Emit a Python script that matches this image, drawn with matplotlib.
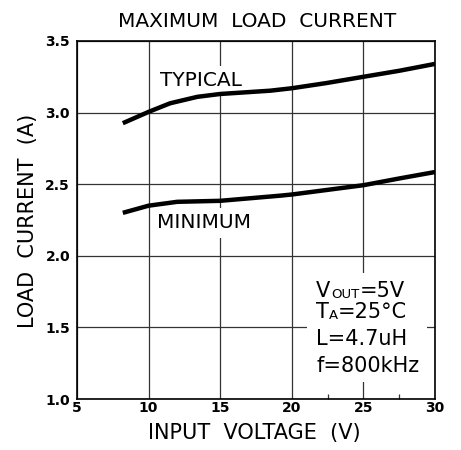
import matplotlib
matplotlib.use("Agg")
import matplotlib.pyplot as plt
from matplotlib.patches import Rectangle

# values
typical_vin  = [8.2, 10.0, 11.5, 13.4, 15.0, 18.5, 20.0, 22.4, 25.0, 27.5, 30.0]
typical_iout = [2.926, 3.005, 3.065, 3.11, 3.13, 3.153, 3.17, 3.206, 3.25, 3.292, 3.34]
minimum_vin  = [8.2, 10.0, 12.0, 15.0, 19.2, 20.0, 25.0, 27.5, 30.0]
minimum_iout = [2.30, 2.35, 2.377, 2.384, 2.42, 2.428, 2.493, 2.54, 2.585]

x_ticks = [5, 10, 15, 20, 25, 30]
y_ticks = [1.0, 1.5, 2.0, 2.5, 3.0, 3.5]
x_minor = [22.5, 27.5]

plt.rcParams.update({
    "font.family": ["DejaVu Sans"],
})


def plot_load_current():
    fig = plt.figure(figsize=(4.61, 4.5), dpi=100)
    ax = fig.add_axes([0.167, 0.1133, 0.7766, 0.7956])

    ax.plot(typical_vin, typical_iout, color="black", lw=3.2, zorder=5,
            solid_capstyle="butt")
    ax.plot(minimum_vin, minimum_iout, color="black", lw=3.2, zorder=5,
            solid_capstyle="butt")

    ax.set_xlim(5, 30)
    ax.set_ylim(1.0, 3.5)
    ax.set_xticks(x_ticks)
    ax.set_yticks(y_ticks)
    ax.set_xticklabels([str(v) for v in x_ticks], fontweight="bold")
    ax.set_yticklabels(["%.1f" % v for v in y_ticks], fontweight="bold")
    ax.set_xticks(x_minor, minor=True)

    ax.grid(True, which="major", color="#333333", lw=0.9)
    ax.set_axisbelow(True)
    ax.tick_params(which="major", length=0, labelsize=10)
    ax.tick_params(axis="x", which="major", pad=1.5)
    ax.tick_params(axis="y", which="major", pad=5)
    ax.tick_params(which="minor", direction="in", length=3.6, width=0.9,
                   color="#333333")
    for s in ax.spines.values():
        s.set_linewidth(1.2)
        s.set_color("black")

    box = dict(facecolor="white", edgecolor="none", pad=4)
    ax.text(10.8, 3.183, "TYPICAL", fontsize=14.5, va="baseline", ha="left",
            bbox=box, zorder=3)
    ax.text(10.56, 2.192, "MINIMUM", fontsize=14.5, va="baseline", ha="left",
            bbox=box, zorder=3)

    # conditions block
    ax.add_patch(Rectangle((0.642, 0.0475), 0.335, 0.304, transform=ax.transAxes,
                           facecolor="white", edgecolor="none", zorder=3))
    big = 15
    small = 9.5
    x0 = 0.668
    t = ax.text(x0, 0.2858, "V", fontsize=big, transform=ax.transAxes,
                va="baseline", zorder=4)
    t = ax.annotate("OUT", xy=(1, 0), xycoords=t, xytext=(0.5, 0),
                    textcoords="offset points", fontsize=small,
                    va="bottom", zorder=4)
    ax.annotate("=5V", xy=(1, 0), xycoords=t, fontsize=big, va="bottom",
                zorder=4)
    t = ax.text(x0, 0.226, "T", fontsize=big, transform=ax.transAxes,
                va="baseline", zorder=4)
    t = ax.annotate("A", xy=(1, 0), xycoords=t, fontsize=small,
                    va="bottom", zorder=4)
    ax.annotate("=25°C", xy=(1, 0), xycoords=t, fontsize=big, va="bottom",
                zorder=4)
    ax.text(x0, 0.151, "L=4.7uH", fontsize=big, transform=ax.transAxes,
            va="baseline", zorder=4)
    ax.text(x0, 0.0763, "f=800kHz", fontsize=big, transform=ax.transAxes,
            va="baseline", zorder=4)

    fig.text(0.5575, 0.9407, "MAXIMUM  LOAD  CURRENT", fontsize=14.5,
             ha="center", va="baseline")
    fig.text(0.551, 0.0244, "INPUT  VOLTAGE  (V)", fontsize=15,
             ha="center", va="baseline")
    fig.text(0.060, 0.51, "LOAD  CURRENT  (A)", fontsize=15, rotation=90,
             ha="center", va="center")

    fig.savefig("out.png", dpi=100)
    return None


if __name__ == "__main__":
    plot_load_current()
